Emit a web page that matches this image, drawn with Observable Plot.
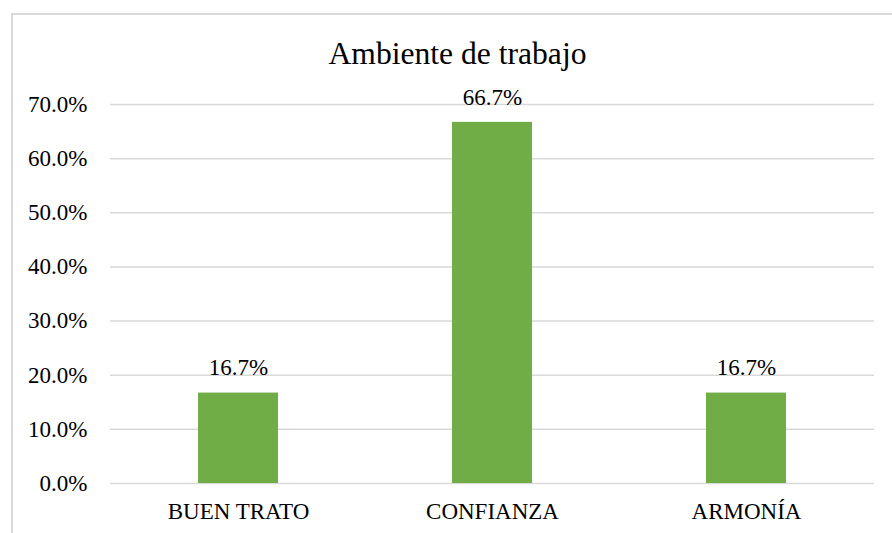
<!DOCTYPE html>
<html>
<head>
<meta charset="utf-8">
<script src="https://cdn.jsdelivr.net/npm/d3@7"></script>
<script src="https://cdn.jsdelivr.net/npm/@observablehq/plot@0.6"></script>
<style>
  html, body { margin: 0; padding: 0; background: #fff; }
  #wrap { position: relative; width: 892px; height: 533px; overflow: hidden; }
  #border { position: absolute; left: 11px; top: 13px; width: 2000px; height: 2000px;
            border-left: 2px solid #d9d9d9; border-top: 2px solid #d9d9d9; box-sizing: border-box; }
  #chart { position: absolute; left: 0; top: 0; }
  #chart svg, #chart svg text { font-family: 'Liberation Serif', 'Times New Roman', serif !important; font-variant: normal !important; }
</style>
</head>
<body>
<div id="wrap"><div id="border"></div><div id="chart"></div></div>
<script>
const title = "Ambiente de trabajo";
const categories = ["BUEN TRATO", "CONFIANZA", "ARMONÍA"];
const values = [0.167, 0.667, 0.167];
const labels = ["16.7%", "66.7%", "16.7%"];
const yTicks = [0, 0.1, 0.2, 0.3, 0.4, 0.5, 0.6, 0.7];

const data = categories.map((c, i) => ({cat: c, value: values[i], label: labels[i]}));
const font = "'Liberation Serif', 'Times New Roman', serif";

const chart = Plot.plot({
  width: 892,
  height: 533,
  marginLeft: 110,
  marginRight: 18,
  marginTop: 104,
  marginBottom: 50,
  style: {fontFamily: font, fontSize: "23px", color: "#000", background: "transparent"},
  x: {domain: categories, paddingInner: 0.686, paddingOuter: 0.343, label: null},
  y: {domain: [0, 0.7], label: null},
  marks: [
    Plot.gridY(yTicks, {stroke: "#d9d9d9", strokeOpacity: 1, strokeWidth: 1.5}),
    Plot.barY(data, {x: "cat", y: "value", fill: "#70AD47"}),
    Plot.text(data, {x: "cat", y: "value", text: "label", dy: -25, fontSize: 23, fill: "#000"}),
    Plot.axisY(yTicks, {tickSize: 0, tickPadding: 23, tickFormat: d => d3.format(".1%")(d), fontSize: 23, fill: "#000"}),
    Plot.axisX({tickSize: 0, tickPadding: 19, fontSize: 23, fill: "#000"}),
    Plot.text([title], {frameAnchor: "top-left", lineAnchor: "middle", dx: 347, dy: -51, fontSize: 31.6, fill: "#000", textAnchor: "middle"})
  ]
});
document.getElementById("chart").appendChild(chart);
</script>
</body>
</html>
